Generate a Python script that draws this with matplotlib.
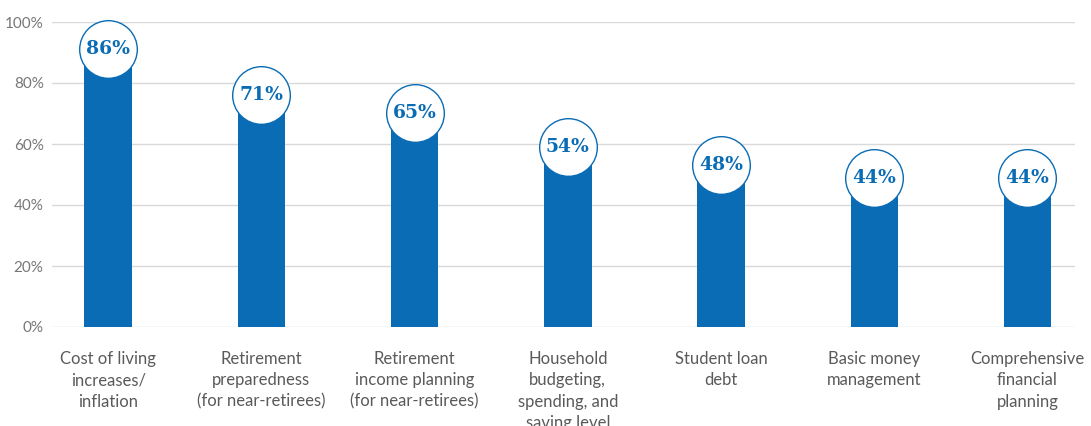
import matplotlib.pyplot as plt
from matplotlib.transforms import offset_copy

categories = [
    "Cost of living\nincreases/\ninflation",
    "Retirement\npreparedness\n(for near-retirees)",
    "Retirement\nincome planning\n(for near-retirees)",
    "Household\nbudgeting,\nspending, and\nsaving level",
    "Student loan\ndebt",
    "Basic money\nmanagement",
    "Comprehensive\nfinancial\nplanning",
]
shares = [86, 71, 65, 54, 48, 44, 44]
yticks = [0, 20, 40, 60, 80, 100]

blue = "#0a6cb4"
grey = "#777777"

plt.rcParams["font.family"] = ["Lato", "DejaVu Sans"]

fig = plt.figure(figsize=(10.91, 4.26), dpi=100)
ax = fig.add_axes([52 / 1091, 99 / 426, 1023 / 1091, 305 / 426])

x = list(range(len(categories)))
ax.bar(x, shares, width=0.31, color=blue, zorder=2)

# value bubbles sit a little above the top of each bar
bubble = offset_copy(ax.transData, fig=fig, x=0, y=11, units="points")
ax.plot(x, shares, linestyle="none", marker="o", markersize=41.5,
        markerfacecolor="white", markeredgecolor=blue, markeredgewidth=1.0,
        transform=bubble, zorder=3, clip_on=False)
for xi, v in zip(x, shares):
    ax.text(xi, v, f"{v}%", transform=bubble, ha="center", va="center",
            fontsize=13.5, fontweight="bold", color=blue,
            family="DejaVu Serif", zorder=4)

ax.set_xlim(-0.366, 6.31)
ax.set_ylim(0, 100)
ax.set_yticks(yticks)
ax.set_yticklabels([f"{t}%" for t in yticks])
ax.set_xticks(x)
ax.set_xticklabels(categories, linespacing=1.42)
ax.tick_params(axis="y", length=0, pad=6, labelsize=11, labelcolor=grey)
ax.tick_params(axis="x", length=0, pad=17, labelsize=12, labelcolor="#5a5a5a")
ax.grid(axis="y", color="#d9d9d9", linewidth=1, zorder=0)
for s in ax.spines.values():
    s.set_visible(False)

fig.savefig("out.png", dpi=100)
